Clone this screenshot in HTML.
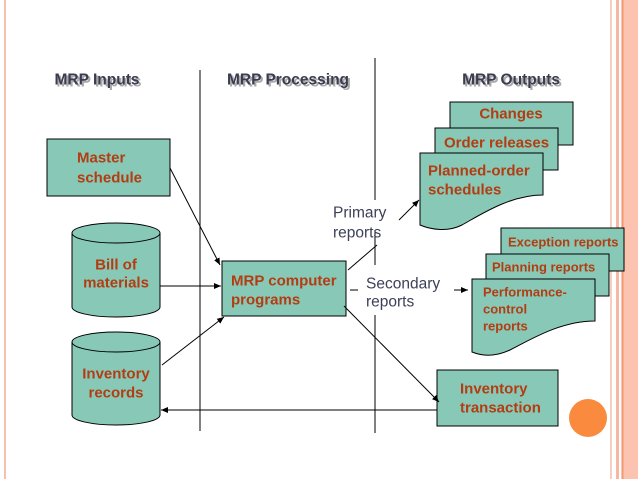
<!DOCTYPE html>
<html><head><meta charset="utf-8"><style>
html,body{margin:0;padding:0;background:#fff;width:638px;height:479px;overflow:hidden}
svg{display:block}
.t{font-family:"Liberation Sans",Arial,sans-serif;font-weight:bold;font-size:15px;fill:#b33d12}
.s{font-family:"Liberation Sans",Arial,sans-serif;font-weight:bold;font-size:13px;fill:#b33d12}
.h{font-family:"Liberation Sans",Arial,sans-serif;font-weight:bold;font-size:15.5px;fill:#3a3c50}
.g{font-family:"Liberation Sans",Arial,sans-serif;font-size:15.5px;fill:#3c4058}
</style></head><body>
<svg width="638" height="479" viewBox="0 0 638 479" xmlns="http://www.w3.org/2000/svg">
<defs><marker id="a" markerWidth="8" markerHeight="8" refX="7" refY="4" orient="auto" markerUnits="userSpaceOnUse"><path d="M0,1 L7,4 L0,7 Z" fill="#000"/></marker></defs>
<rect x="4" y="0" width="2" height="479" fill="#f6c0ae"/>
<rect x="610" y="0" width="2" height="479" fill="#f7cfc0"/>
<rect x="616" y="0" width="3" height="479" fill="#f5b8a2"/>
<rect x="621" y="0" width="17" height="479" fill="#fcc3b0"/>
<rect x="622" y="0" width="1.5" height="479" fill="#f29a70"/>
<g class="h" text-anchor="middle" dominant-baseline="central">
<text x="98" y="81" fill="#aaa" dx="1" dy="1">MRP Inputs</text><text x="97" y="80">MRP Inputs</text>
<text x="289" y="81" fill="#aaa" dx="1" dy="1">MRP Processing</text><text x="288" y="80">MRP Processing</text>
<text x="512" y="81" fill="#aaa" dx="1" dy="1">MRP Outputs</text><text x="511" y="80">MRP Outputs</text>
</g>
<g stroke="#000" stroke-width="1">
<line x1="200" y1="70" x2="200" y2="431"/>
<line x1="375" y1="58" x2="375" y2="200"/>
<line x1="375" y1="230" x2="375" y2="265"/>
<line x1="375" y1="315" x2="375" y2="433"/>
</g>
<g fill="#88c8b6" stroke="#000" stroke-width="1">
<rect x="47" y="139" width="123" height="57"/>
<path d="M72,233 V307 A44,10 0 0 0 160,307 V233"/>
<ellipse cx="116" cy="233" rx="44" ry="10"/>
<path d="M72,342 V415 A44,10 0 0 0 160,415 V342"/>
<ellipse cx="116" cy="342" rx="44" ry="10"/>
<rect x="222" y="261" width="124" height="55"/>
<rect x="437" y="370" width="121" height="56"/>
<rect x="450" y="102" width="123" height="43"/>
<rect x="435" y="128" width="123" height="42"/>
<path d="M420,153 H543 V195 C510,195 480,215 462,225 C448,232 432,230 420,225 Z"/>
<rect x="501" y="228" width="123" height="43"/>
<rect x="486" y="254" width="123" height="42"/>
<path d="M472,279 H595 V321 C560,321 530,340 510,350 C495,357 482,356 472,352 Z"/>
</g>
<circle cx="588" cy="418" r="19" fill="#f98a3e"/>
<g stroke="#000" stroke-width="1" fill="none">
<line x1="170" y1="168" x2="220" y2="265" marker-end="url(#a)"/>
<line x1="160" y1="286" x2="221" y2="286" marker-end="url(#a)"/>
<line x1="162" y1="365" x2="224" y2="317" marker-end="url(#a)"/>
<line x1="344" y1="306" x2="439" y2="402" marker-end="url(#a)"/>
<line x1="437" y1="410" x2="161" y2="410" marker-end="url(#a)"/>
<line x1="348" y1="270" x2="377" y2="245"/>
<line x1="399" y1="220" x2="419" y2="200" marker-end="url(#a)"/>
<line x1="350" y1="290" x2="358" y2="290"/>
<line x1="454" y1="290" x2="468" y2="290" marker-end="url(#a)"/>
</g>
<g class="t" dominant-baseline="central">
<text x="77" y="158">Master</text><text x="77" y="178">schedule</text>
<text x="116" y="265" text-anchor="middle">Bill of</text><text x="116" y="283" text-anchor="middle">materials</text>
<text x="116" y="374" text-anchor="middle">Inventory</text><text x="116" y="393" text-anchor="middle">records</text>
<text x="231" y="281">MRP computer</text><text x="231" y="300">programs</text>
<text x="460" y="389">Inventory</text><text x="460" y="408">transaction</text>
<text x="511" y="114" text-anchor="middle">Changes</text>
<text x="444" y="143">Order releases</text>
<text x="428" y="171">Planned-order</text><text x="428" y="190">schedules</text>
</g>
<g class="s" dominant-baseline="central">
<text x="508" y="242">Exception reports</text>
<text x="492" y="267">Planning reports</text>
<text x="483" y="292">Performance-</text><text x="483" y="309">control</text><text x="483" y="326">reports</text>
</g>
<g class="g" dominant-baseline="central">
<text x="333" y="213">Primary</text><text x="333" y="233">reports</text>
<text x="366" y="284">Secondary</text><text x="366" y="302">reports</text>
</g>
</svg>
</body></html>
